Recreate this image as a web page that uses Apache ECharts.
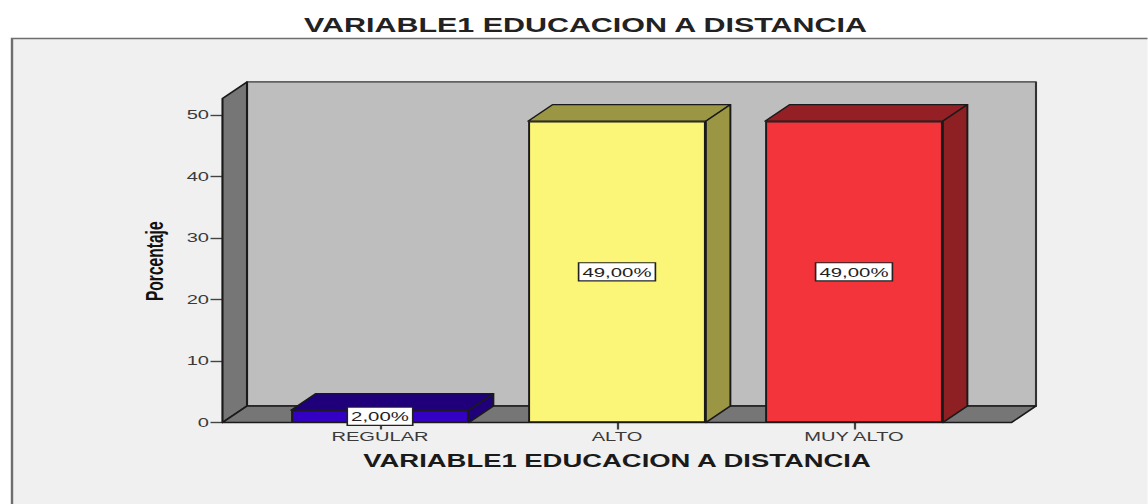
<!DOCTYPE html>
<html>
<head>
<meta charset="utf-8">
<style>
html,body{margin:0;padding:0;background:#fff;overflow:hidden;width:1148px;height:504px}
#c{width:765.33px;height:504px;transform:scaleX(1.5);transform-origin:0 0}
</style>
<script src="https://cdn.jsdelivr.net/npm/echarts@6/dist/echarts.min.js"></script>
</head>
<body>
<div id="c"></div>
<script>
const titleText = 'VARIABLE1 EDUCACION A DISTANCIA';
const xAxisName = 'VARIABLE1 EDUCACION A DISTANCIA';
const yAxisName = 'Porcentaje';
const categories = ['REGULAR', 'ALTO', 'MUY ALTO'];
const values = [2, 49, 49];
const valueLabels = ['2,00%', '49,00%', '49,00%'];
const frontColors = ['#3300c4', '#fbf677', '#f3343b'];
const topColors = ['#1f007a', '#9a9644', '#941f24'];
const sideColors = ['#1f007a', '#9a9644', '#8e1f22'];
const panelTopValue = 52.7;

// The reference picture is stretched horizontally; the page scales the chart by S.
const S = 1.5;
const DX = 24.5 / S, DY = 16.5, INSET = 39 / S;
const EDGE = '#1a1a1a';
const FONT = 'Liberation Sans';

function poly(points, fill, stroke, w) {
  return { type: 'polygon', shape: { points }, style: { fill, stroke: stroke || EDGE, lineWidth: w || 1.3, lineJoin: 'round' } };
}

const chart = echarts.init(document.getElementById('c'), null, { renderer: 'svg' });
chart.setOption({
  backgroundColor: '#ffffff',
  animation: false,
  graphic: [{
    type: 'rect', z: 0,
    shape: { x: 12 / S, y: 38.5, width: 800, height: 480 },
    style: { fill: '#f0f0f0', stroke: '#6e6e6e', lineWidth: 1.6 }
  }],
  title: {
    text: titleText, left: 578 / S, top: 10, textAlign: 'center',
    textStyle: { fontFamily: FONT, fontSize: 20.3, fontWeight: 'bold', color: '#222222' }
  },
  grid: { left: 261.5 / S, top: 115, width: 711 / S, height: 307.5, containLabel: false },
  xAxis: {
    type: 'category', data: categories,
    name: xAxisName, nameLocation: 'middle', nameGap: 29,
    nameTextStyle: { fontFamily: FONT, fontSize: 18.3, fontWeight: 'bold', color: '#1a1a1a' },
    axisLine: { show: false },
    axisTick: { show: true, alignWithLabel: true, length: 7, lineStyle: { color: '#444', width: 1.5 } },
    axisLabel: { fontFamily: FONT, fontSize: 13.4, color: '#3a3a3a', margin: 8 }
  },
  yAxis: {
    type: 'value', min: 0, max: 50, interval: 10, offset: INSET,
    name: yAxisName, nameLocation: 'middle', nameGap: 37,
    nameTextStyle: { fontFamily: FONT, fontSize: 15.6, fontWeight: 'bold', color: '#111', padding: [0, 0, 0, 15] },
    axisLine: { show: true, lineStyle: { color: '#222', width: 1.2 } },
    axisTick: { show: true, length: 8, lineStyle: { color: '#444', width: 1.4 } },
    axisLabel: { fontFamily: FONT, fontSize: 13.4, color: '#3a3a3a', margin: 9 },
    splitLine: { show: false }
  },
  series: [
    {
      type: 'custom', z: 1, silent: true, data: [[0, 0]],
      renderItem(params, api) {
        const g = params.coordSys;
        const L = g.x - INSET, R = g.x + g.width + INSET;
        const y0 = api.coord([0, 0])[1];
        const yt = api.coord([0, panelTopValue])[1];
        return { type: 'group', children: [
          poly([[L + DX, yt - DY], [R + DX, yt - DY], [R + DX, y0 - DY], [L + DX, y0 - DY]], '#bebebe', '#333', 1.4),
          poly([[L, y0], [L, yt], [L + DX, yt - DY], [L + DX, y0 - DY]], '#767676', EDGE, 1.4),
          poly([[L, y0], [R, y0], [R + DX, y0 - DY], [L + DX, y0 - DY]], '#767676', EDGE, 1.4)
        ] };
      }
    },
    {
      type: 'custom', z: 2, silent: true,
      data: values.map((v, i) => [i, v]),
      renderItem(params, api) {
        const i = api.value(0), v = api.value(1);
        const c = api.coord([i, v]);
        const y0 = api.coord([i, 0])[1];
        const w = api.size([1, 0])[0] * 0.75;
        const l = c[0] - w / 2, r = c[0] + w / 2, t = c[1];
        return { type: 'group', children: [
          poly([[l, t], [r, t], [r + DX, t - DY], [l + DX, t - DY]], topColors[i]),
          poly([[r, t], [r, y0], [r + DX, y0 - DY], [r + DX, t - DY]], sideColors[i])
        ] };
      }
    },
    {
      type: 'bar', z: 3, barWidth: '75%',
      data: values.map((v, i) => ({
        value: v,
        itemStyle: { color: frontColors[i], borderColor: EDGE, borderWidth: 1.3 }
      })),
      label: {
        show: true, position: 'inside',
        formatter: p => valueLabels[p.dataIndex],
        fontFamily: FONT, fontSize: 13.6, color: '#222',
        backgroundColor: '#ffffff', borderColor: '#222', borderWidth: 1.1,
        padding: [2, 2, 1, 2]
      }
    }
  ]
});
</script>
</body>
</html>
